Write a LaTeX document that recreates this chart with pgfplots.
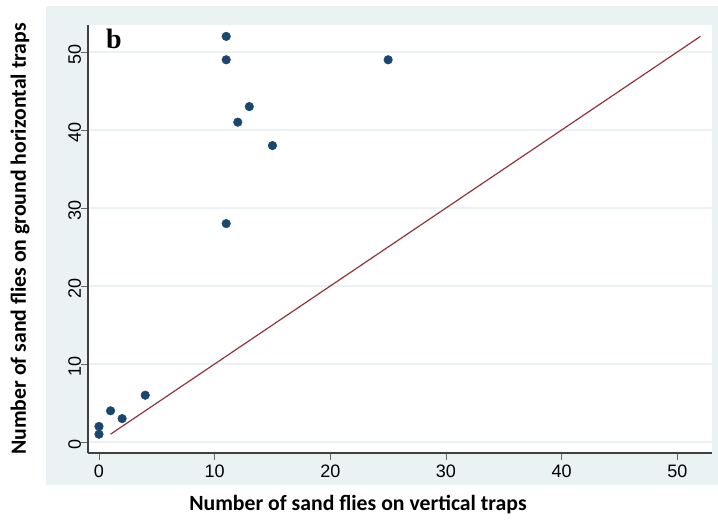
\documentclass[border=0pt]{standalone}
\usepackage{fontspec}
\setmainfont{Liberation Sans}
\newfontfamily\labelfont{Carlito}
\newfontfamily\serifb{Liberation Serif}
\usepackage{pgfplots}
\pgfplotsset{compat=1.18}

\definecolor{panel}{HTML}{EAF2F3}
\definecolor{navy}{HTML}{1A476F}
\definecolor{maroon}{HTML}{90353B}

\begin{document}
\begin{tikzpicture}
  % outer light panel (Stata style)
  \fill[panel] (-31.5pt,-24pt) rectangle (472.5pt,335.25pt);
  \begin{axis}[
    at={(0,0)}, anchor=south west,
    width=468pt, height=321pt, scale only axis,
    xmin=-0.95, xmax=53, ymin=-1.41, ymax=53.46,
    axis x line*=bottom, axis y line*=left,
    axis line style={black!75, line width=0.8pt, -},
    axis background/.style={fill=white},
    xtick={0,10,...,50}, ytick={0,10,...,50},
    tick align=outside, major tick length=5pt,
    tick style={black!60, line width=0.6pt},
    ymajorgrids, grid style={panel, line width=1pt},
    ticklabel style={font=\fontsize{13.5}{16}\selectfont},
    /pgf/number format/assume math mode=true,
    yticklabel style={rotate=90, anchor=south, inner sep=0pt, xshift=-2pt},
    xticklabel style={inner sep=0pt, yshift=-4pt},
    clip=false,
  ]
    % one-to-one reference line
    \addplot[maroon, line width=0.9pt] coordinates {(1,1) (52,52)};
    % vertical vs ground horizontal trap counts
    \addplot[only marks, mark=*, mark size=3.2pt, mark options={fill=navy, draw=navy}]
      coordinates {
        (11,52) (11,49) (13,43) (12,41) (15,38) (11,28) (25,49)
        (0,2) (0,1) (1,4) (2,3) (4,6)
      };
    \node[anchor=base west, inner sep=0pt, font=\serifb\bfseries\fontsize{21}{24}\selectfont]
      at (axis cs:0.6,50.5) {b};
  \end{axis}
  \node[anchor=base, inner sep=0pt, font=\labelfont\bfseries\fontsize{16.3}{19}\selectfont]
    at (202.5pt,-42.75pt) {Number of sand flies on vertical traps};
  \node[anchor=base, rotate=90, inner sep=0pt, font=\labelfont\bfseries\fontsize{16.3}{19}\selectfont]
    at (-46.5pt,160.5pt) {Number of sand flies on ground horizontal traps};
  \useasboundingbox (-66pt,-51.75pt) rectangle (472.5pt,339.75pt);
\end{tikzpicture}
\end{document}
